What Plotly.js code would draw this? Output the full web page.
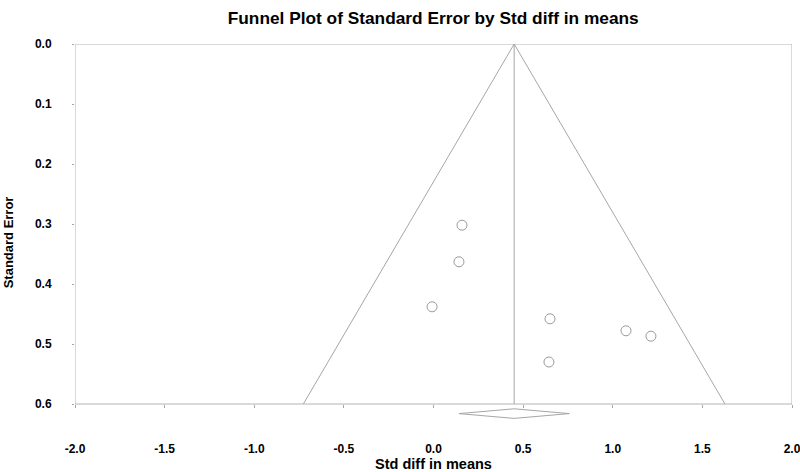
<!DOCTYPE html>
<html>
<head>
<meta charset="utf-8">
<script src="https://cdn.plot.ly/plotly-3.0.1.min.js"></script>
<style>
  html, body { margin: 0; padding: 0; background: #fff; }
  #chart { width: 800px; height: 472px; }
</style>
</head>
<body>
<div id="chart"></div>
<script>
// study points
const studyEffect = [0.159, 0.142, -0.008, 0.650, 1.074, 1.213, 0.644];
const studySE = [0.302, 0.363, 0.438, 0.458, 0.478, 0.487, 0.530];

// funnel (pseudo 95% limits) and summary line
const funnelX = [-0.726, 0.45, 1.626];
const funnelY = [0.6, 0, 0.6];
const centerX = [0.45, 0.45];
const centerY = [0, 0.6];

// summary diamond under the axis
const diamondX = [0.142, 0.45, 0.758, 0.45, 0.142];
const diamondY = [0.616, 0.608, 0.616, 0.624, 0.616];

const xTicks = [-2.0, -1.5, -1.0, -0.5, 0.0, 0.5, 1.0, 1.5, 2.0];
const yTicks = [0.0, 0.1, 0.2, 0.3, 0.4, 0.5, 0.6];

const lineGrey = '#a6a6a6';
const fam = 'Liberation Sans, Arial, sans-serif';
const tickFont = { family: fam, size: 12, color: '#000', weight: 700 };

const traces = [
    {
        x: funnelX, y: funnelY, type: 'scatter', mode: 'lines',
        line: { color: lineGrey, width: 1 }, hoverinfo: 'skip'
    },
    {
        x: centerX, y: centerY, type: 'scatter', mode: 'lines',
        line: { color: lineGrey, width: 1 }, hoverinfo: 'skip'
    },
    {
        x: diamondX, y: diamondY, type: 'scatter', mode: 'lines',
        line: { color: lineGrey, width: 1 }, hoverinfo: 'skip'
    },
    {
        x: studyEffect, y: studySE, type: 'scatter', mode: 'markers',
        marker: { symbol: 'circle-open', size: 10, color: '#9a9a9a', line: { width: 1 } }
    }
];

const layout = {
    width: 800,
    height: 472,
    margin: { l: 75, r: 8, t: 44, b: 50 },
    paper_bgcolor: '#fff',
    plot_bgcolor: '#fff',
    showlegend: false,
    title: {
        text: 'Funnel Plot of Standard Error by Std diff in means',
        font: { family: fam, size: 17.3, color: '#000', weight: 700 },
        x: 0.5415, xanchor: 'center', y: 0.963, yanchor: 'middle'
    },
    xaxis: {
        range: [-2, 2],
        anchor: 'free',
        position: 0.03 / 0.63,
        tickvals: xTicks,
        ticktext: xTicks.map(v => v.toFixed(1)),
        ticks: 'outside', ticklen: 3, tickcolor: lineGrey,
        ticklabelstandoff: 31,
        ticklabeloverflow: 'allow',
        showgrid: false, zeroline: false, showline: false,
        tickfont: tickFont,
        title: { text: 'Std diff in means', font: { family: fam, size: 14.5, color: '#000', weight: 700 }, standoff: 4 }
    },
    yaxis: {
        range: [0.63, 0],
        tickvals: yTicks,
        ticktext: yTicks.map(v => v.toFixed(1)),
        ticks: 'outside', ticklen: 2, tickcolor: lineGrey,
        ticklabelstandoff: 18,
        showgrid: false, zeroline: false, showline: false,
        tickfont: tickFont
    },
    annotations: [
        {
            text: 'Standard Error', font: { family: fam, size: 13, color: '#000', weight: 700 },
            textangle: -90,
            xref: 'paper', x: -0.093, xanchor: 'center',
            yref: 'y', y: 0.33, yanchor: 'middle',
            showarrow: false
        }
    ],
    shapes: [
        {
            type: 'rect', xref: 'x', yref: 'y',
            x0: -2, x1: 2, y0: 0, y1: 0.6,
            line: { color: '#b4b4b4', width: 1 }, layer: 'below'
        }
    ]
};

Plotly.newPlot('chart', traces, layout, { displayModeBar: false, staticPlot: true });
</script>
</body>
</html>
